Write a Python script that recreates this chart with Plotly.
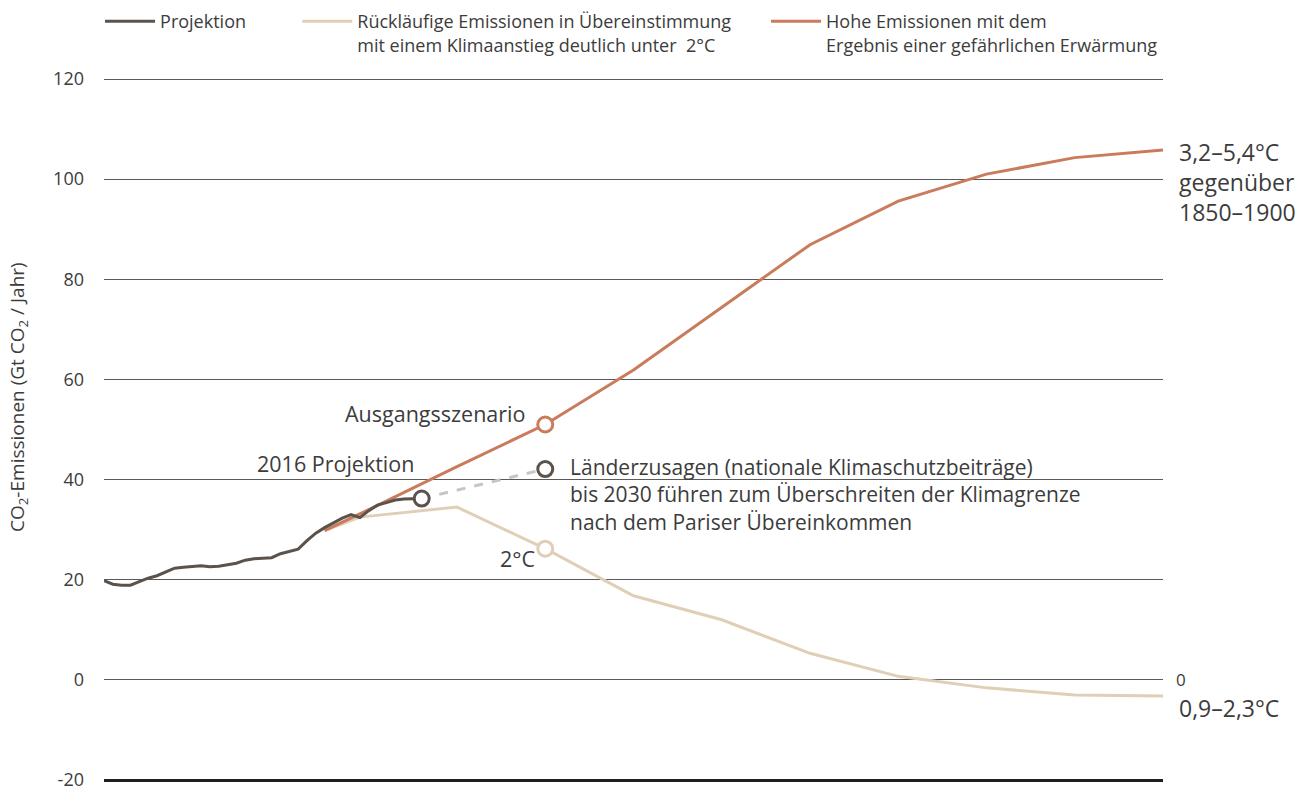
import plotly.graph_objects as go

# ---------------- data ----------------
proj_years = list(range(1980, 2017))
proj_vals = [19.8, 19.1, 18.9, 18.9, 19.6, 20.3, 20.8, 21.5, 22.3, 22.5,
             22.7, 22.8, 22.6, 22.7, 23.0, 23.3, 23.9, 24.2, 24.3, 24.4,
             25.2, 25.6, 26.1, 27.8, 29.3, 30.4, 31.4, 32.3, 33.0, 32.4,
             33.8, 34.9, 35.4, 35.9, 36.1, 36.1, 36.2]

low_years = [2005, 2009, 2020, 2030, 2040, 2050, 2060, 2070, 2080, 2090, 2100]
low_vals = [29.8, 32.5, 34.5, 26.2, 16.8, 12.0, 5.3, 0.7, -1.6, -3.0, -3.2]

high_years = [2005, 2010, 2020, 2030, 2040, 2050, 2060, 2070, 2080, 2090, 2100]
high_vals = [29.8, 34.0, 42.6, 51.0, 61.9, 74.4, 86.9, 95.6, 101.0, 104.3, 105.8]

pledge_years = [2016, 2030]
pledge_vals = [36.2, 42.1]

y_ticks = [-20, 0, 20, 40, 60, 80, 100, 120]

C_PROJ = "#5b524b"
C_LOW = "#e0cfb7"
C_HIGH = "#c97b5c"
C_DASH = "#c6c6c6"
TXT = "#3c3c3c"
FONT = "Open Sans"

Y_MIN, Y_MAX = -20.6, 120.6
BASELINE = -20

fig = go.Figure()

fig.add_trace(go.Scatter(x=pledge_years, y=pledge_vals, mode="lines",
                         line=dict(color=C_DASH, width=3, dash="dash"),
                         showlegend=False, hoverinfo="skip"))
fig.add_trace(go.Scatter(x=low_years, y=low_vals, mode="lines",
                         line=dict(color=C_LOW, width=3),
                         name="Rückläufige Emissionen in Übereinstimmung<br>mit einem Klimaanstieg deutlich unter  2°C",
                         legend="legend2"))
fig.add_trace(go.Scatter(x=high_years, y=high_vals, mode="lines",
                         line=dict(color=C_HIGH, width=3),
                         name="Hohe Emissionen mit dem<br>Ergebnis einer gefährlichen Erwärmung",
                         legend="legend3"))
fig.add_trace(go.Scatter(x=proj_years, y=proj_vals, mode="lines",
                         line=dict(color=C_PROJ, width=3),
                         name="Projektion", legend="legend"))

# hollow circle markers
def marker(x, y, color):
    fig.add_trace(go.Scatter(x=[x], y=[y], mode="markers",
                             marker=dict(size=15, color="white",
                                         line=dict(color=color, width=3)),
                             showlegend=False, hoverinfo="skip"))

marker(high_years[3], high_vals[3], C_HIGH)
marker(pledge_years[1], pledge_vals[1], C_PROJ)
marker(low_years[3], low_vals[3], C_LOW)
marker(proj_years[-1], proj_vals[-1], C_PROJ)

ann_font = dict(family=FONT, size=21.5, color=TXT)
side_font = dict(family=FONT, size=23, color=TXT)
annotations = [
    dict(x=2030, y=high_vals[3], xref="x", yref="y", text="Ausgangsszenario",
         xanchor="right", yanchor="middle", xshift=-18, yshift=11, showarrow=False, font=ann_font),
    dict(x=2016, y=proj_vals[-1], xref="x", yref="y", text="2016 Projektion",
         xanchor="right", yanchor="middle", xshift=-6, yshift=35, showarrow=False, font=ann_font),
    dict(x=2030, y=pledge_vals[1], xref="x", yref="y",
         text="Länderzusagen (nationale Klimaschutzbeiträge)<br>bis 2030 führen zum Überschreiten der Klimagrenze<br>nach dem Pariser Übereinkommen",
         xanchor="left", yanchor="top", align="left", xshift=23, yshift=18, showarrow=False,
         font=dict(family=FONT, size=21, color=TXT)),
    dict(x=2030, y=low_vals[3], xref="x", yref="y", text="2°C",
         xanchor="right", yanchor="middle", xshift=-8, yshift=-10, showarrow=False, font=ann_font),
    dict(x=1, y=high_vals[-1], xref="paper", yref="y",
         text="3,2–5,4°C<br>gegenüber<br>1850–1900",
         xanchor="left", yanchor="top", align="left", xshift=14, yshift=16, showarrow=False, font=side_font),
    dict(x=1, y=low_vals[-1], xref="paper", yref="y", text="0,9–2,3°C",
         xanchor="left", yanchor="middle", xshift=14, yshift=-12, showarrow=False, font=side_font),
    dict(x=1, y=0, xref="paper", yref="y", text="0",
         xanchor="left", yanchor="middle", xshift=11, yshift=0, showarrow=False,
         font=dict(family=FONT, size=17, color=TXT)),
    dict(x=-0.0812, y=0.546, xref="paper", yref="paper",
         text="CO<sub>2</sub>-Emissionen (Gt CO<sub>2</sub> / Jahr)",
         textangle=-90, xanchor="center", yanchor="middle", showarrow=False,
         font=dict(family=FONT, size=19, color=TXT)),
]

leg_common = dict(orientation="h", yanchor="top", xanchor="left", valign="top",
                  xref="container", yref="container",
                  bgcolor="rgba(0,0,0,0)", borderwidth=0, itemwidth=50,
                  font=dict(family=FONT, size=18, color=TXT), y=0.996)

fig.update_layout(
    width=1301, height=791,
    margin=dict(l=104, r=138, t=76, b=8, autoexpand=False),
    paper_bgcolor="white", plot_bgcolor="white",
    font=dict(family=FONT, size=18, color=TXT),
    legend=dict(x=0.0769, **leg_common),
    legend2=dict(x=0.2285, **leg_common),
    legend3=dict(x=0.5888, **leg_common),
    annotations=annotations,
    xaxis=dict(range=[1980, 2100], showgrid=False, zeroline=False,
               showticklabels=False, ticks="", showline=True,
               anchor="free", position=(BASELINE - Y_MIN) / (Y_MAX - Y_MIN),
               linecolor="#1e1e1e", linewidth=2.5, fixedrange=True),
    yaxis=dict(range=[Y_MIN, Y_MAX], tickvals=y_ticks, ticktext=[str(v) for v in y_ticks],
               showgrid=True, gridcolor="#5a5a5a", gridwidth=1, zeroline=False,
               showline=False, ticks="", ticklabelstandoff=19, ticklabeloverflow="allow",
               tickfont=dict(family=FONT, size=18, color=TXT), fixedrange=True),
)

fig.write_html("out.html", config={"displayModeBar": False},
               post_script="document.body.style.margin='0px';document.body.style.overflow='hidden';")
